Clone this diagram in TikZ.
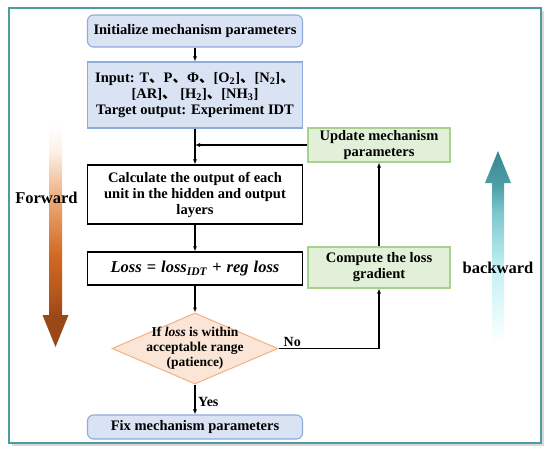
\documentclass[tikz,border=0pt]{standalone}
\usepackage{fontspec}
\setmainfont{Liberation Serif}
\newfontfamily\cjk{Noto Sans CJK SC}
\usetikzlibrary{arrows.meta,shapes.geometric,calc}
\definecolor{framecol}{HTML}{4F9A9E}
\definecolor{boxblue}{HTML}{DAE3F3}
\definecolor{boxblueline}{HTML}{8FAADC}
\definecolor{boxgreen}{HTML}{E2F0D9}
\definecolor{boxgreenline}{HTML}{A9D18E}
\definecolor{decfill}{HTML}{FBE5D6}
\definecolor{decline}{HTML}{F4B183}
\definecolor{fa}{HTML}{9A4818}
\definecolor{fb}{HTML}{B5571C}
\definecolor{fc}{HTML}{D26A22}
\definecolor{fd}{HTML}{EBA878}
\definecolor{fe}{HTML}{FDF1E8}
\definecolor{ba}{HTML}{368891}
\definecolor{bb}{HTML}{4E9EA6}
\definecolor{bc}{HTML}{7CC7CD}
\definecolor{bd}{HTML}{C2EFF3}
\definecolor{be}{HTML}{ECFBFC}
\pgfdeclareverticalshading{fwdshade}{100bp}{color(0bp)=(fa); color(25bp)=(fa); color(32bp)=(fa); color(37bp)=(fb); color(46bp)=(fc); color(58bp)=(fd); color(69bp)=(fe); color(75bp)=(white); color(100bp)=(white)}
\pgfdeclareverticalshading{bwdshade}{100bp}{color(0bp)=(white); color(25bp)=(white); color(31bp)=(be); color(45bp)=(bd); color(59bp)=(bc); color(66bp)=(bb); color(75bp)=(ba); color(100bp)=(ba)}
\newcommand{\dun}{{\cjk 、}}
\begin{document}
\begin{tikzpicture}[x=1pt,y=-1pt,
  every node/.style={font=\bfseries\fontsize{14.5}{16}\selectfont, align=center, inner sep=0pt},
  bluebox/.style={draw=boxblueline, fill=boxblue, line width=1.1pt, minimum width=215},
  greenbox/.style={draw=boxgreenline, fill=boxgreen, line width=1.1pt, minimum width=142},
  whitebox/.style={draw=black, fill=white, line width=1.2pt, minimum width=215},
  decbox/.style={shape=diamond, draw=decline, fill=decfill, line width=1pt, minimum width=166, minimum height=71},
  conn/.style={draw=black, line width=1.2pt, -{Latex[length=5pt,width=4pt]}},
  bigtext/.style={font=\bfseries\fontsize{16.5}{18}\selectfont}
]
\useasboundingbox (0,0) rectangle (550,451);
\fill[white] (0,0) rectangle (550,451);
% frame
\draw[black!15, line width=1.5pt] (12,445) -- (543,445) -- (543,11);
\draw[framecol, line width=2pt] (9,8) rectangle (541,443);

% direction arrows
\shade[shading=fwdshade] (49,125) -- (62,125) -- (62,315) -- (68.5,315) -- (55.5,347) -- (42.5,315) -- (49,315) -- cycle;
\shade[shading=bwdshade] (492,343) -- (504,343) -- (504,183) -- (511,183) -- (498,151) -- (485,183) -- (492,183) -- cycle;
\node[bigtext] (fwd) at (46.5,198) {Forward};
\node[bigtext] (bwd) at (498,268) {backward};

% nodes
\node[bluebox, rounded corners=6pt, minimum height=32] (init) at (195,31) {Initialize mechanism parameters};
\node[bluebox, minimum height=66] (input) at (195,95) {Input: T\dun P\dun Φ\dun [O\textsubscript{2}]\dun [N\textsubscript{2}]\dun\\{}[AR]\dun\ [H\textsubscript{2}]\dun [NH\textsubscript{3}]\\Target output: Experiment IDT};
\node[greenbox, minimum height=34] (update) at (379,145) {Update mechanism\\parameters};
\node[whitebox, minimum height=59] (calc) at (195,194.5) {Calculate the output of each\\unit in the hidden and output\\layers};
\node[whitebox, minimum height=33] (loss) at (195,268.5) {\fontsize{16.5}{18}\selectfont\itshape Loss\hspace{5pt}\upshape=\hspace{5pt}\itshape loss\textsubscript{IDT}\hspace{5pt}\upshape+\hspace{5pt}\itshape reg\hspace{5pt}loss};
\node[greenbox, minimum height=41] (compute) at (379,267.5) {Compute the loss\\gradient};
\node[decbox, label={[font=\bfseries\fontsize{13.5}{15}\selectfont, align=center]center:If \textit{loss} is within\\acceptable range\\(patience)}] (dec) at (195,348.5) {};
\node[bluebox, rounded corners=6pt, minimum height=24] (fix) at (195,427) {Fix mechanism parameters};

% connectors
\coordinate (join) at (input.south |- update.west);
\draw[conn] (init) -- (input);
\draw[conn] (input) -- (calc);
\draw[conn] (update.west) -- (join);
\draw[conn] (calc) -- (loss);
\draw[conn] (loss) -- (dec);
\draw[conn] (dec.east) -| (compute.south);
\node[anchor=south west, font=\bfseries\fontsize{14}{16}\selectfont] (no) at ([xshift=5pt,yshift=2pt]dec.east) {No};
\draw[conn] (compute) -- (update);
\draw[conn] (dec) -- (fix);
\node[anchor=west, font=\bfseries\fontsize{14}{16}\selectfont] (yes) at ([xshift=3pt,yshift=-3pt]$(dec.south)!0.5!(fix.north)$) {Yes};
\end{tikzpicture}
\end{document}
